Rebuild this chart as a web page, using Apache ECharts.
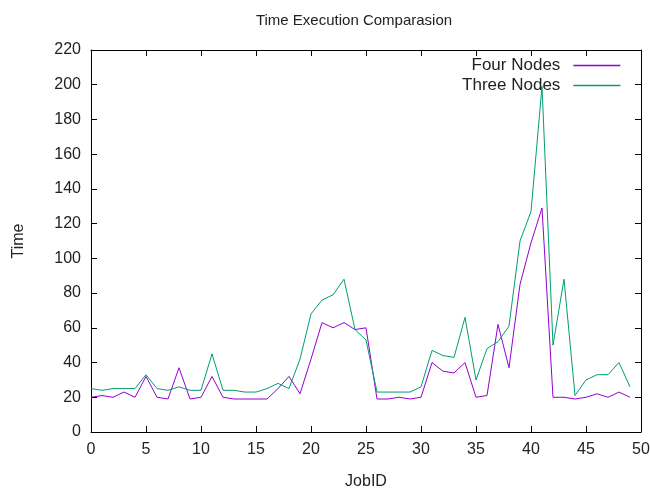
<!DOCTYPE html>
<html>
<head>
<meta charset="utf-8">
<script src="https://cdn.jsdelivr.net/npm/echarts@6/dist/echarts.min.js"></script>
<style>html,body{margin:0;padding:0;background:#fff}#c{width:650px;height:488px}</style>
</head>
<body>
<div id="c"></div>
<script>
const jobIds = Array.from({length: 50}, (_, i) => i);
const fourNodes = [20,21,20,23,20,32,20,19,37,19,20,32,20,19,19,19,19,25,32,22,42,63,60,63,59,60,19,19,20,19,20,40,35,34,40,20,21,62,37,85,109,129,20,20,19,20,22,20,23,20];
const threeNodes = [25,24,25,25,25,33,25,24,26,24,24,45,24,24,23,23,25,28,25,42,68,76,79,88,59,53,23,23,23,23,26,47,44,43,66,30,48,52,61,110,127,199,50,88,21,30,33,33,40,26];
const seriesNames = ['Four Nodes', 'Three Nodes'];
const colors = ['#9400d3', '#009e73'];

const chart = echarts.init(document.getElementById('c'), null, {renderer: 'canvas'});
const font = 'Liberation Sans, Arial, sans-serif';
function axisCommon() {
  return {
    axisLine: {show: true, onZero: false, lineStyle: {color: '#000', width: 1}},
    axisTick: {show: true, inside: true, length: 6, lineStyle: {color: '#000'}},
    splitLine: {show: false}
  };
}
function legendFor(i, top) {
  return {
    data: [seriesNames[i]],
    right: 24, top: top, orient: 'vertical', align: 'right',
    itemWidth: 47, itemHeight: 14,
    itemStyle: {opacity: 0},
    lineStyle: {width: 1.3, color: colors[i], opacity: 1},
    textStyle: {fontFamily: font, fontSize: 17, color: '#222', padding: [0, 8, 0, 0]}
  };
}
chart.setOption({
  animation: false,
  backgroundColor: '#fff',
  color: colors,
  title: {
    text: 'Time Execution Comparasion',
    left: 349, top: 8, textAlign: 'center',
    textStyle: {fontFamily: font, fontSize: 15, fontWeight: 'normal', color: '#222'}
  },
  legend: [legendFor(0, 52), legendFor(1, 72)],
  grid: {left: 91, right: 9, top: 50, bottom: 56, containLabel: false, outerBoundsMode: 'none'},
  xAxis: [
    Object.assign(axisCommon(), {type: 'value', min: 0, max: 50, interval: 5, position: 'bottom',
      name: 'JobID', nameLocation: 'middle', nameGap: 42,
      nameTextStyle: {fontFamily: font, fontSize: 16, color: '#222'},
      axisLabel: {fontFamily: font, fontSize: 16, color: '#222', margin: 10}}),
    Object.assign(axisCommon(), {type: 'value', min: 0, max: 50, interval: 5, position: 'top',
      axisLabel: {show: false}})
  ],
  yAxis: [
    Object.assign(axisCommon(), {type: 'value', min: 0, max: 220, interval: 20, position: 'left',
      name: 'Time', nameLocation: 'middle', nameGap: 64, nameRotate: 90,
      nameTextStyle: {fontFamily: font, fontSize: 16, color: '#222'},
      axisLabel: {fontFamily: font, fontSize: 16, color: '#222', margin: 10}}),
    Object.assign(axisCommon(), {type: 'value', min: 0, max: 220, interval: 20, position: 'right',
      axisLabel: {show: false}})
  ],
  series: [
    {name: seriesNames[0], type: 'line', data: jobIds.map((x, i) => [x, fourNodes[i]]),
     showSymbol: false, symbol: 'none', lineStyle: {color: colors[0], width: 1}, itemStyle: {color: colors[0]}},
    {name: seriesNames[1], type: 'line', data: jobIds.map((x, i) => [x, threeNodes[i]]),
     showSymbol: false, symbol: 'none', lineStyle: {color: colors[1], width: 1}, itemStyle: {color: colors[1]}}
  ]
});
</script>
</body>
</html>
